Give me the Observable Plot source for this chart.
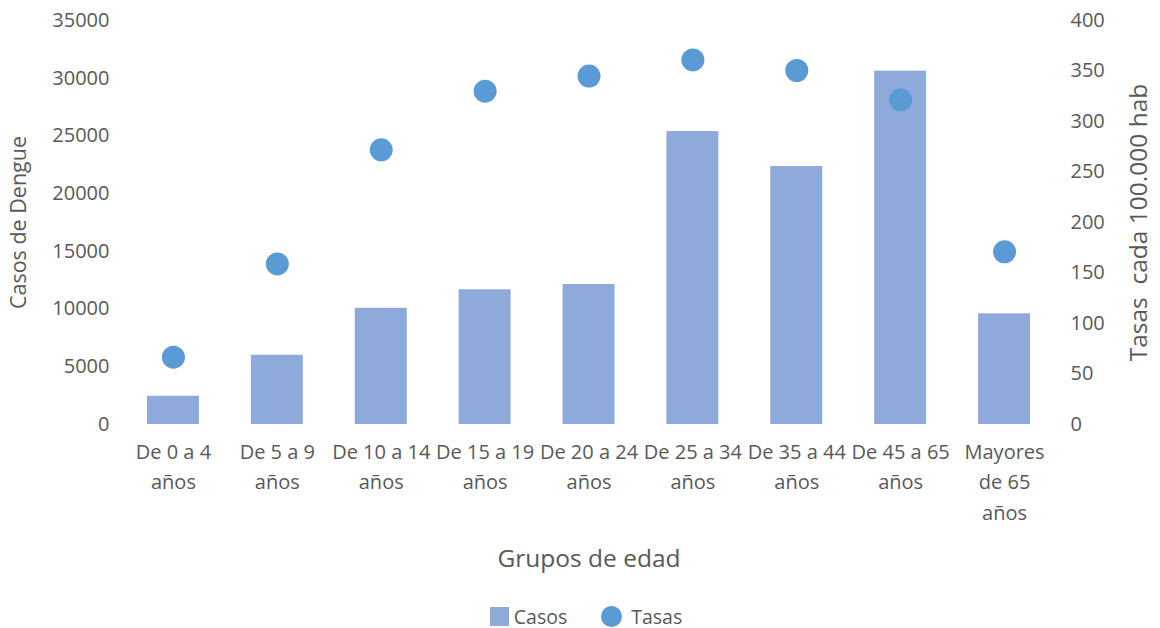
<!DOCTYPE html>
<html>
<head>
<meta charset="utf-8">
<script src="https://cdn.jsdelivr.net/npm/d3@7"></script>
<script src="https://cdn.jsdelivr.net/npm/@observablehq/plot@0.6"></script>
<style>
  html, body { margin: 0; padding: 0; background: #fff; }
  #wrap { position: relative; width: 1160px; height: 628px; font-family: "Open Sans", sans-serif; color: #595959; }
  #xtitle { position: absolute; left: 0; width: 1178px; top: 541px; text-align: center; font-size: 24.5px; }
  #legend { position: absolute; left: 0; width: 1172px; top: 603px; display: flex; justify-content: center; align-items: center; font-size: 19.5px; }
  .sw { display: inline-block; width: 19px; height: 19px; background: #8eaadb; margin-right: 5px; }
  .ci { display: inline-block; width: 21px; height: 21px; border-radius: 50%; background: #5b9bd5; margin-left: 34px; margin-right: 9px; }
</style>
</head>
<body>
<div id="wrap">
  <div id="chart"></div>
  <div id="xtitle">Grupos de edad</div>
  <div id="legend"><span class="sw"></span><span>Casos</span><span class="ci"></span><span>Tasas</span></div>
</div>
<script>
const grupos = ["De 0 a 4\naños", "De 5 a 9\naños", "De 10 a 14\naños", "De 15 a 19\naños", "De 20 a 24\naños", "De 25 a 34\naños", "De 35 a 44\naños", "De 45 a 65\naños", "Mayores\nde 65\naños"];
const casos = [2450, 6000, 10070, 11670, 12130, 25380, 22350, 30610, 9590];
const tasas = [66.6, 159, 272, 330, 345, 361, 350.5, 321.5, 171];
const leftTicks = [0, 5000, 10000, 15000, 20000, 25000, 30000, 35000];
const rightTicks = [0, 50, 100, 150, 200, 250, 300, 350, 400];
const leftMax = 35000, rightMax = 400;
const k = leftMax / rightMax;

const data = grupos.map((g, i) => ({grupo: g, casos: casos[i], tasa: tasas[i]}));

const chart = Plot.plot({
  width: 1160,
  height: 540,
  marginTop: 20,
  marginBottom: 116,
  marginLeft: 121,
  marginRight: 104,
  style: {fontFamily: "Open Sans, sans-serif", fontSize: "20px", color: "#595959", background: "#fff"},
  x: {domain: grupos, paddingInner: 0.5, paddingOuter: 0.25, round: false, label: null},
  y: {domain: [0, leftMax], label: null},
  marks: [
    Plot.gridY(leftTicks, {stroke: "#d9d9d9", strokeOpacity: 1, strokeWidth: 1.2, x1: 120, x2: 1055}),
    Plot.barY(data, {x: "grupo", y: "casos", fill: "#8eaadb"}),
    Plot.dot(data, {x: "grupo", y: d => d.tasa * k, r: 11.5, fill: "#5b9bd5"}),
    Plot.axisY(leftTicks, {anchor: "left", tickSize: 0, tickPadding: 12, label: null, fill: "#595959", fontSize: 20, tickFormat: v => String(v)}),
    Plot.axisY(rightTicks.map(v => v * k), {anchor: "right", tickSize: 0, tickPadding: 14, label: null, fill: "#595959", fontSize: 20, tickFormat: v => String(Math.round(v / k))}),
    Plot.axisX({tickSize: 0, tickPadding: 13, label: null, fill: "#595959", lineHeight: 1.52, fontSize: 20}),
    Plot.text(["Casos de Dengue"], {frameAnchor: "left", textAnchor: "middle", dx: -102, rotate: -90, fontSize: 21.5, fill: "#595959"}),
    Plot.text(["Tasas  cada 100.000 hab"], {frameAnchor: "right", textAnchor: "middle", dx: 83, rotate: -90, fontSize: 24.5, fill: "#595959"})
  ]
});
document.getElementById("chart").appendChild(chart);
</script>
</body>
</html>
